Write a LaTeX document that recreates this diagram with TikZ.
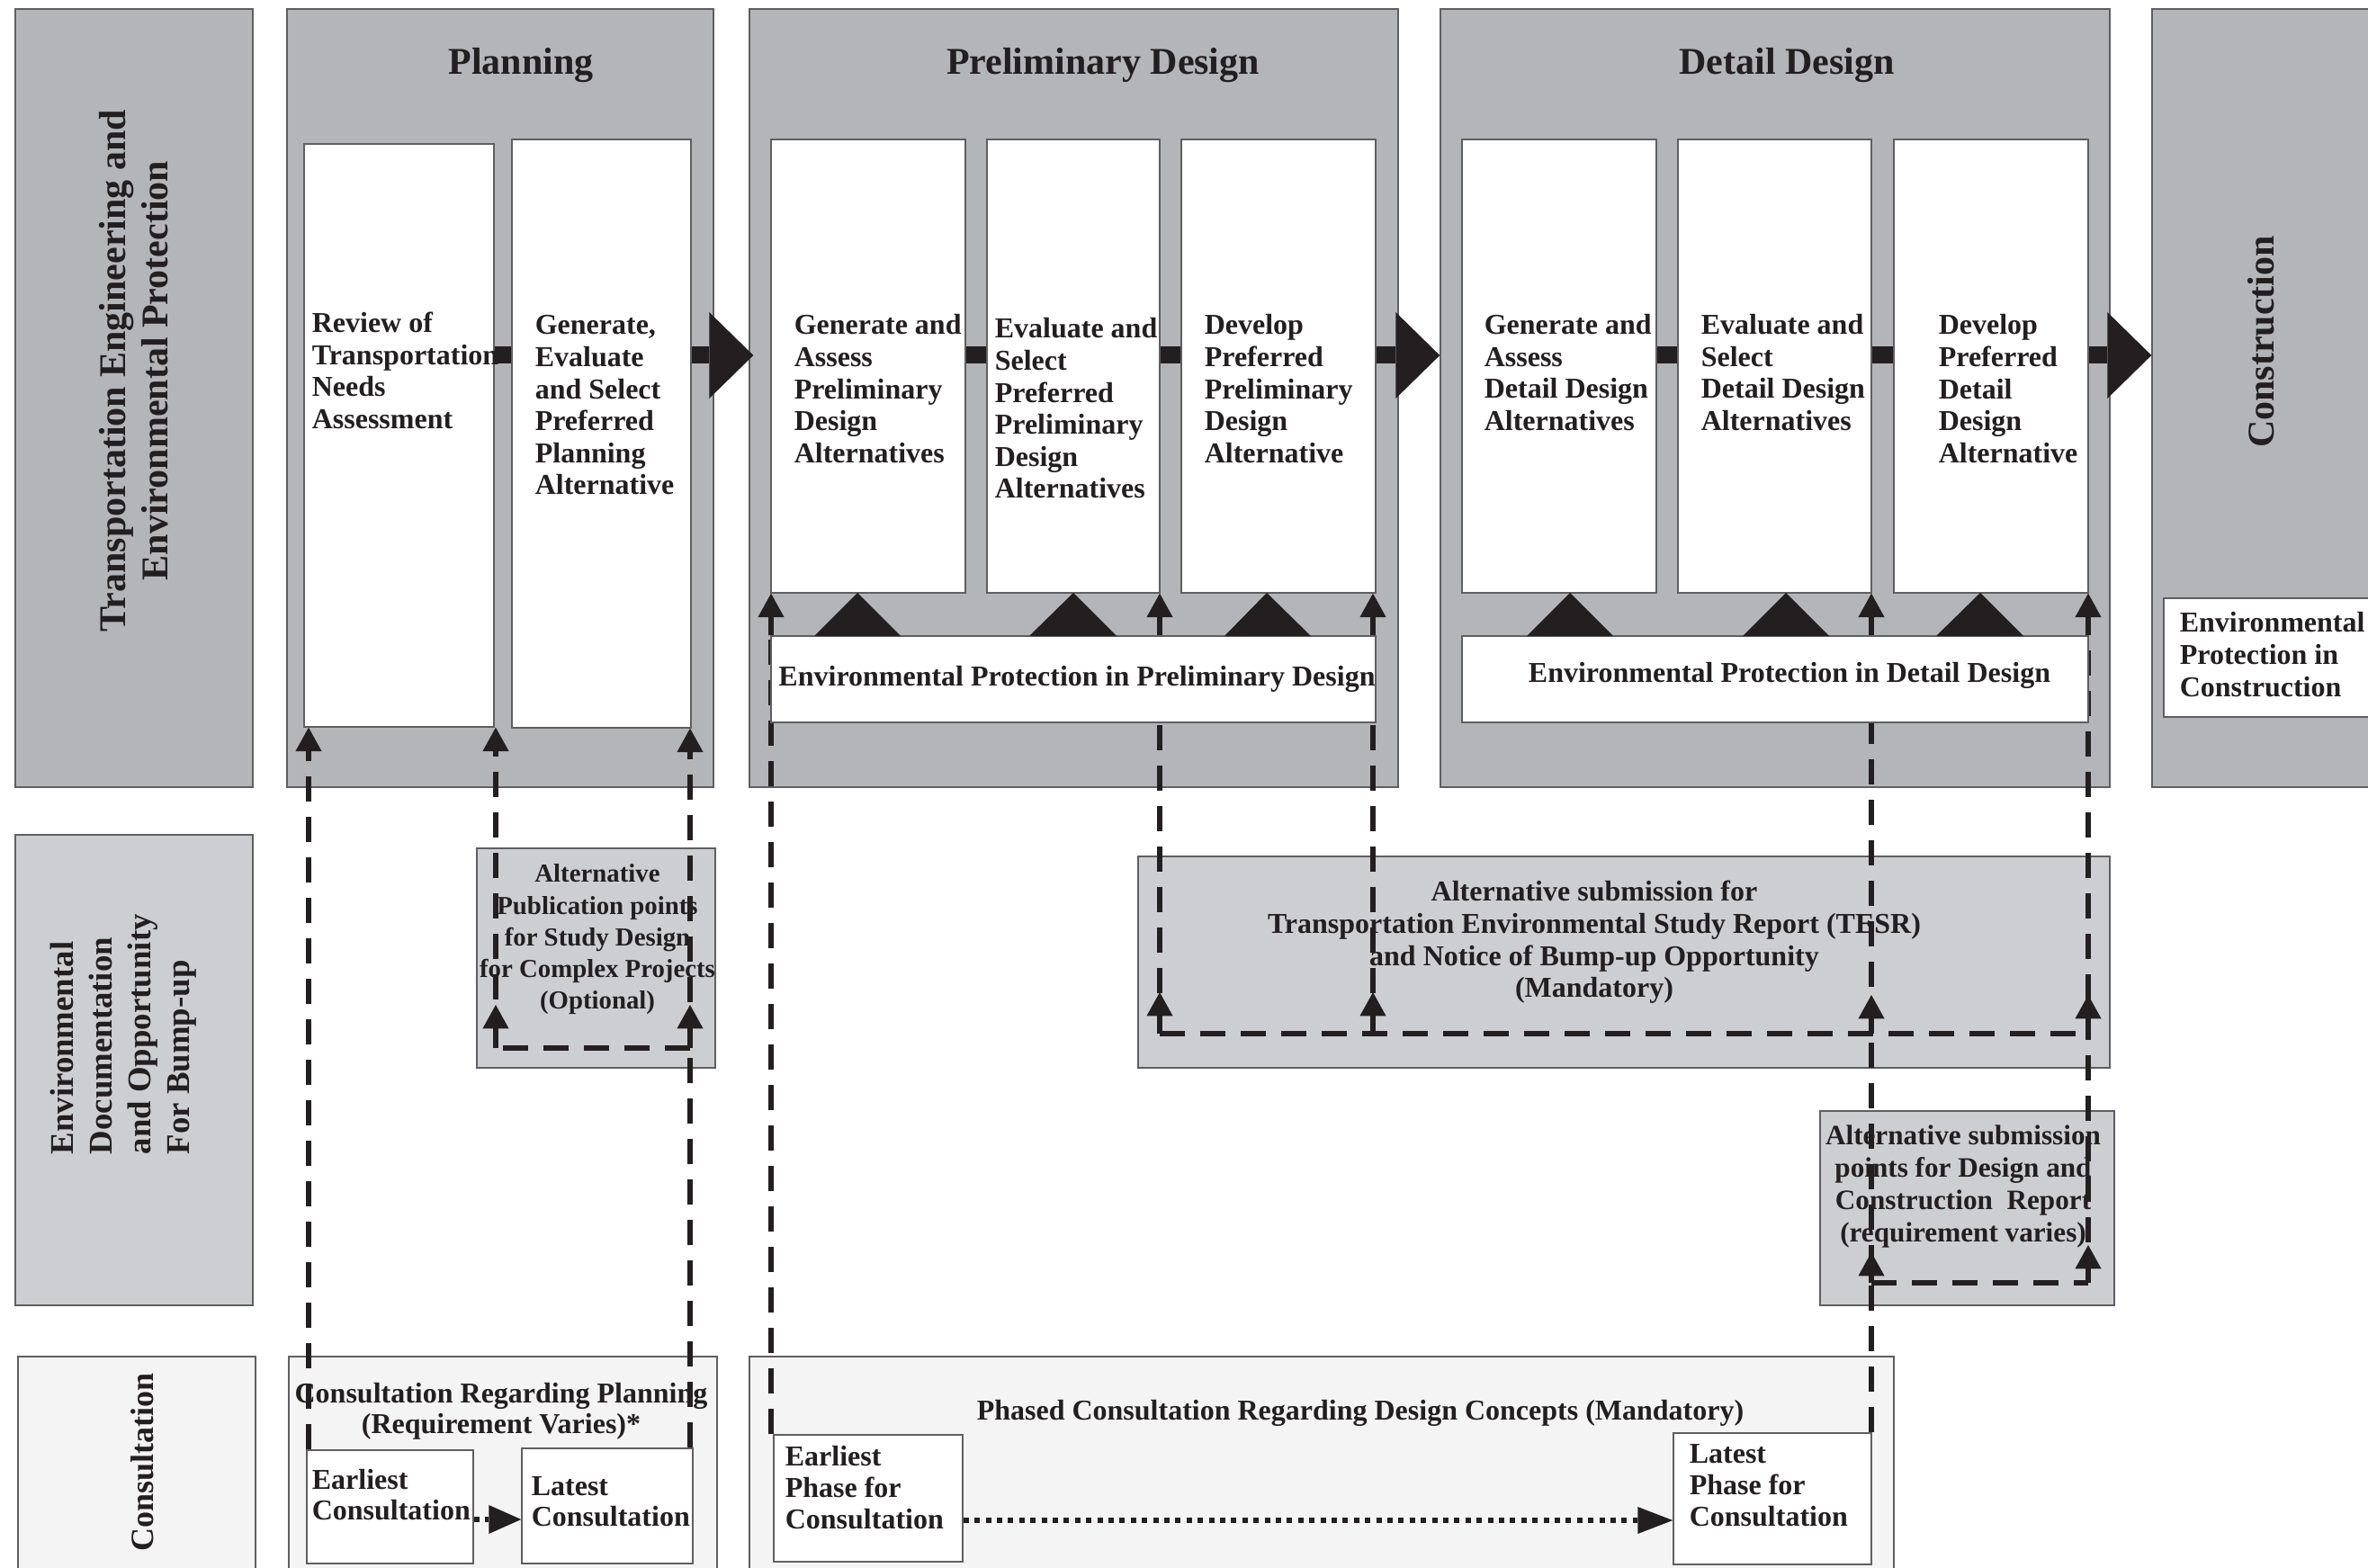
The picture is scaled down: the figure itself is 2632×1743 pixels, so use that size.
\documentclass[tikz,border=0pt]{standalone}
\usepackage{fontspec}
\setmainfont{Liberation Serif}
\usetikzlibrary{arrows.meta,calc,fit}
\definecolor{dgray}{RGB}{180,181,185}
\definecolor{lgray}{RGB}{205,206,209}
\definecolor{vlgray}{RGB}{244,244,244}
\definecolor{edgec}{RGB}{95,95,98}
\definecolor{ink}{RGB}{35,31,32}
\newcommand{\fs}[2]{\bfseries\fontsize{#1}{#2}\selectfont}
\newcommand{\st}[1]{\rule{0pt}{#1}}
\begin{document}
\begin{tikzpicture}[x=0.25pt,y=-0.25pt,
  box/.style={draw=edgec, line width=0.35pt, inner sep=0pt},
  dbox/.style={box, fill=dgray},
  lbox/.style={box, fill=lgray},
  cbox/.style={box, fill=vlgray},
  wbox/.style={box, fill=white},
  txt/.style={text=ink, inner sep=0pt, align=left, font=\fs{8}{8.9}},
  dline/.style={draw=ink, line width=1.33pt, dash pattern=on 7pt off 4.25pt},
  uptip/.style={-{Triangle[width=7.3pt,length=6.6pt,line width=0pt]}},
  stem/.style={draw=ink, line width=1.33pt, uptip},
  bar/.style={draw=ink, line width=4.75pt},
  bigarrow/.style={draw=ink, line width=4.75pt, -{Triangle[width=24pt,length=12.25pt,line width=0pt]}},
  dotline/.style={draw=ink, line width=1.5pt, dash pattern=on 1.5pt off 1.6pt},
]
\useasboundingbox (0,0) rectangle (2632,1743);
\clip (0,0) rectangle (2632,1743);
\fill[white] (0,0) rectangle (2632,1743);

% ---------- upper gray frames ----------
\node[dbox, fit={(17,10) (281,875)}] (hdr) {};
\node[dbox, fit={(319,10) (793,875)}] (plan) {};
\node[dbox, fit={(833,10) (1554,875)}] (prel) {};
\node[dbox, fit={(1601,10) (2345,875)}] (det) {};
\node[dbox, fit={(2392,10) (2680,875)}] (con) {};

% ---------- step boxes ----------
\node[wbox, fit={(338,160) (549,808)}] (review) {};
\node[wbox, fit={(569,155) (768,809)}] (pgen) {};
\node[wbox, fit={(857,155) (1073,659)}] (p1) {};
\node[wbox, fit={(1097,155) (1289,659)}] (p2) {};
\node[wbox, fit={(1313,155) (1529,659)}] (p3) {};
\node[wbox, fit={(1625,155) (1841,659)}] (d1) {};
\node[wbox, fit={(1865,155) (2080,659)}] (d2) {};
\node[wbox, fit={(2105,155) (2321,659)}] (d3) {};
\node[wbox, fit={(2405,665) (2680,797)}] (epc) {};

% ---------- lower boxes ----------
\node[lbox, fit={(17,928) (281,1451)}] (envdoc) {};
\node[lbox, fit={(530,943) (795,1187)}] (altpub) {};
\node[lbox, fit={(1265,952) (2345,1187)}] (tesr) {};
\node[lbox, fit={(2023,1235) (2350,1451)}] (altsub) {};
\node[cbox, fit={(20,1508) (284,1780)}] (consl) {};
\node[cbox, fit={(321,1508) (797,1780)}] (consp) {};
\node[cbox, fit={(833,1508) (2105,1780)}] (consd) {};
\node[wbox, fit={(341,1612) (526,1738)}] (ec) {};
\node[wbox, fit={(580,1610) (770,1738)}] (lc) {};
\node[wbox, fit={(860,1595) (1070,1736)}] (eph) {};
\node[wbox, fit={(1860,1593) (2080,1739)}] (lph) {};

% ---------- texts ----------
\node[txt, font=\fs{10.5}{11.75}, anchor=base] (tplan) at (579,83) {Planning};
\node[txt, font=\fs{10.5}{11.75}, anchor=base] (tprel) at (1226,83) {Preliminary Design};
\node[txt, font=\fs{10.5}{11.75}, anchor=base] (tdet) at (1986,83) {Detail Design};

\node[txt, font=\fs{10.5}{11.75}, align=center, rotate=90] (thdr) at (149,412) {Transportation Engineering and\\Environmental Protection};
\node[txt, font=\fs{10.5}{11.75}, rotate=90] (tcon) at (2513,380) {Construction};
\node[txt, font=\fs{9.2}{10.75}, align=left, rotate=90, anchor=west] (tenv) at (137,1284) {Environmental\\Documentation\\and Opportunity\\For Bump-up};
\node[txt, font=\fs{9}{10}, rotate=90] (tcons) at (158,1625) {Consultation};

\node[txt, anchor=north west] (treview) at (346,345) {\st{6pt}Review of\\Transportation\\Needs\\Assessment};
\node[txt, anchor=north west] (tpgen) at (594,347) {\st{6pt}Generate,\\Evaluate\\and Select\\Preferred\\Planning\\Alternative};
\node[txt, anchor=north west] (tp1) at (882,347) {\st{6pt}Generate and\\Assess\\Preliminary\\Design\\Alternatives};
\node[txt, anchor=north west] (tp2) at (1105,351) {\st{6pt}Evaluate and\\Select\\Preferred\\Preliminary\\Design\\Alternatives};
\node[txt, anchor=north west] (tp3) at (1338,347) {\st{6pt}Develop\\Preferred\\Preliminary\\Design\\Alternative};
\node[txt, anchor=north west] (td1) at (1649,347) {\st{6pt}Generate and\\Assess\\Detail Design\\Alternatives};
\node[txt, anchor=north west] (td2) at (1890,347) {\st{6pt}Evaluate and\\Select\\Detail Design\\Alternatives};
\node[txt, anchor=north west] (td3) at (2154,347) {\st{6pt}Develop\\Preferred\\Detail\\Design\\Alternative};
\node[txt, anchor=north west] (tepc) at (2422,678) {\st{6pt}Environmental\\Protection in\\Construction};

\node[txt, font=\fs{7.2}{8.8}, align=center, anchor=north] (taltpub) at (664,958) {\st{5.5pt}Alternative\\Publication points\\for Study Design\\for Complex Projects\\(Optional)};
\node[txt, align=center, anchor=north] (ttesr) at (1772,977) {\st{6pt}Alternative submission for\\Transportation Environmental Study Report (TESR)\\and Notice of Bump-up Opportunity\\(Mandatory)};
\node[txt, font=\fs{7.8}{9}, align=center, anchor=north] (taltsub) at (2182,1248) {\st{6pt}Alternative submission\\points for Design and\\Construction~~Report\\(requirement varies)};

\node[txt, font=\fs{8}{8.5}, align=center, anchor=north] (tconsp) at (557,1535) {\st{6pt}Consultation Regarding Planning\\(Requirement Varies)*};
\node[txt, font=\fs{8}{8.5}, anchor=north west] (tec) at (346,1631) {\st{6pt}Earliest\\Consultation};
\node[txt, font=\fs{8}{8.5}, anchor=north west] (tlc) at (590,1638) {\st{6pt}Latest\\Consultation};
\node[txt, font=\fs{8}{8.75}, anchor=north west] (teph) at (872,1605) {\st{6pt}Earliest\\Phase for\\Consultation};
\node[txt, font=\fs{8}{8.75}, anchor=north west] (tlph) at (1877,1602) {\st{6pt}Latest\\Phase for\\Consultation};
\node[txt, anchor=base] (tconsd) at (1512,1578) {Phased Consultation Regarding Design Concepts (Mandatory)};

% ---------- horizontal process connectors ----------
\coordinate (row) at (0,395);
\draw[bar] (review.east |- row) -- (pgen.west |- row);
\draw[bar] (p1.east |- row) -- (p2.west |- row);
\draw[bar] (p2.east |- row) -- (p3.west |- row);
\draw[bar] (d1.east |- row) -- (d2.west |- row);
\draw[bar] (d2.east |- row) -- (d3.west |- row);
\draw[bigarrow] (pgen.east |- row) -- ($(prel.west |- row)+(5,0)$);
\draw[bigarrow] (p3.east |- row) -- (det.west |- row);
\draw[bigarrow] (d3.east |- row) -- (con.west |- row);

% ---------- dashed feedback lines ----------
\coordinate (dA) at (343,0);
\coordinate (dB) at (551,0);
\coordinate (dC) at (767,0);
\coordinate (dD) at (857,0);
\coordinate (dE) at (1289,0);
\coordinate (dF) at (1526,0);
\coordinate (dG) at (2080,0);
\coordinate (dH) at (2321,0);
\coordinate (hP) at (0,1165);
\coordinate (hT) at (0,1149);
\coordinate (hS) at (0,1426);
\coordinate (epT) at (0,707);

\draw[dline, uptip] (ec.north -| dA) -- (review.south -| dA);
\draw[dline, uptip] (lc.north -| dC) -- (pgen.south -| dC);
\draw[dline, uptip] (dC |- hP) -- (dB |- hP) -- (review.south -| dB);
\draw[dline] (eph.north -| dD) -- (dD |- epT);
\draw[dline] (dE |- hT) -- (dE |- epT);
\draw[dline] (dF |- hT) -- (dF |- epT);
\draw[dline] (lph.north -| dG) -- (dG |- epT);
\draw[dline] (dH |- hS) -- (dH |- epT);
\draw[dline] (dE |- hT) -- (dH |- hT);
\draw[dline] (dG |- hS) -- (dH |- hS);

% ---------- environmental protection boxes ----------
\node[wbox, fit={(857,707) (1529,803)}] (epP) {};
\node[wbox, fit={(1625,707) (2321,803)}] (epD) {};
\node[txt, anchor=base] (tepP) at (1197,762) {Environmental Protection in Preliminary Design};
\node[txt, anchor=base] (tepD) at (1989,758) {Environmental Protection in Detail Design};

% black triangles
\fill[ink] (905,707) -- (953,659) -- (1001,707) -- cycle;
\fill[ink] (1144,707) -- (1193,659) -- (1241,707) -- cycle;
\fill[ink] (1361,707) -- (1408,659) -- (1457,707) -- cycle;
\fill[ink] (1697,707) -- (1745,659) -- (1793,707) -- cycle;
\fill[ink] (1937,707) -- (1985,659) -- (2033,707) -- cycle;
\fill[ink] (2152,707) -- (2201,659) -- (2249,707) -- cycle;

% arrows into step boxes
\draw[stem] (epP.north -| dD) -- (p1.south -| dD);
\draw[stem] (epP.north -| dE) -- (p2.south -| dE);
\draw[stem] (epP.north -| dF) -- (p3.south -| dF);
\draw[stem] (epD.north -| dG) -- (d2.south -| dG);
\draw[stem] (epD.north -| dH) -- (d3.south -| dH);

% submission markers
\draw[stem] (dB |- hP) -- ++(0,-48);
\draw[stem] (dC |- hP) -- ++(0,-48);
\draw[stem] (dE |- hT) -- ++(0,-46);
\draw[stem] (dF |- hT) -- ++(0,-46);
\draw[stem] (dG |- hT) -- ++(0,-43);
\draw[stem] (dH |- hT) -- ++(0,-43);
\draw[stem] (dG |- hS) -- ++(0,-34);
\draw[stem] (dH |- hS) -- ++(0,-42);

% ---------- dotted consultation arrows ----------
\coordinate (dotP) at (0,1689);
\coordinate (dotD) at (0,1690);
\draw[dotline, -{Triangle[width=8pt,length=9pt,line width=0pt]}] (ec.east |- dotP) -- (lc.west |- dotP);
\draw[dotline, -{Triangle[width=7.5pt,length=9.75pt,line width=0pt]}] (eph.east |- dotD) -- (lph.west |- dotD);
\end{tikzpicture}
\end{document}
